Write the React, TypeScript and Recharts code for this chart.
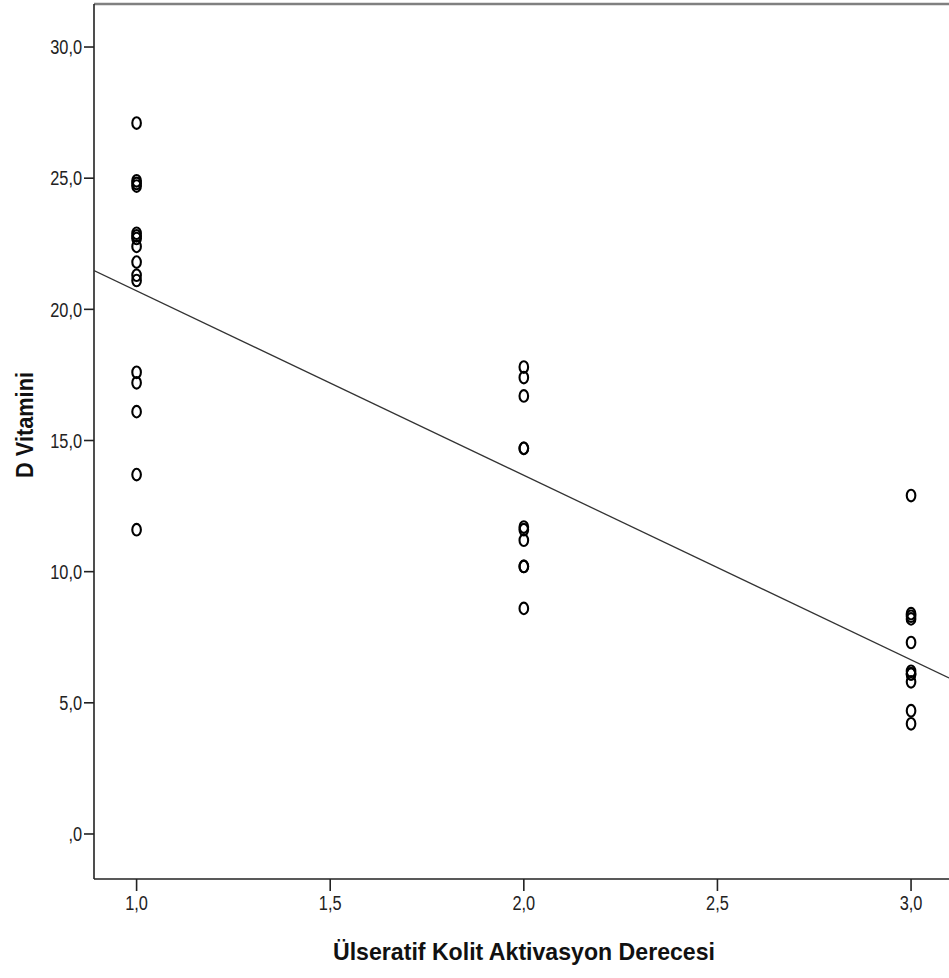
import { ScatterChart, Scatter, XAxis, YAxis, ReferenceLine } from "recharts";

// values, one list per activity grade
const grade1Values = [27.1, 24.9, 24.8, 24.7, 22.9, 22.8, 22.7, 22.4, 21.8, 21.3, 21.1, 17.6, 17.2, 16.1, 13.7, 11.6];
const grade2Values = [17.8, 17.4, 16.7, 14.7, 14.7, 11.7, 11.6, 11.2, 10.2, 10.2, 8.6];
const grade3Values = [12.9, 8.4, 8.3, 8.2, 7.3, 6.2, 6.1, 6.1, 5.8, 4.7, 4.2];

const grades = [1, 2, 3];
const xTicks = [1, 1.5, 2, 2.5, 3];
const yTicks = [0, 5, 10, 15, 20, 25, 30];

// fit line end points (at the plot edges)
const fitX = [0.89, 3.098];
const fitY = [21.48, 5.95];

const X_DOMAIN = [0.89, 3.098];
const Y_DOMAIN = [-1.716, 31.64];

const FONT = "'Liberation Sans', Arial, sans-serif";

const points = [grade1Values, grade2Values, grade3Values].flatMap((vals, i) =>
  vals.map((v) => ({ x: grades[i], y: v }))
);
const fitLine = fitX.map((x, i) => ({ x, y: fitY[i] }));

const fmt = (v: number) => (v === 0 ? ",0" : v.toFixed(1).replace(".", ","));

const Ring = (props: any) => (
  <ellipse cx={props.cx} cy={props.cy} rx={4.3} ry={5.8} fill="none" stroke="#000" strokeWidth={2.1} />
);

const NoDot = () => <g />;

// condensed tick text, like the narrow SPSS font
const CondensedTick = (props: any) => {
  const { x, y, payload, textAnchor, vertical } = props;
  const dy = vertical ? "0.36em" : "0.72em";
  return (
    <g transform={`translate(${x},${y}) scale(0.86,1.05)`}>
      <text x={0} y={0} dy={dy} textAnchor={textAnchor} fontFamily={FONT} fontSize={19} fill="#222">
        {fmt(payload.value)}
      </text>
    </g>
  );
};

export default function App() {
  return (
    <div style={{ width: 949, height: 978, background: "#fff" }}>
      <style>{`body{margin:0}`}</style>
      <ScatterChart width={949} height={978} margin={{ top: 4, right: 0, bottom: 0, left: 0 }}>
        <XAxis
          dataKey="x"
          type="number"
          domain={X_DOMAIN}
          ticks={xTicks}
          allowDataOverflow
          height={99}
          tickSize={12}
          tickMargin={5}
          axisLine={{ stroke: "#222", strokeWidth: 1.6 }}
          tickLine={{ stroke: "#222", strokeWidth: 1.6 }}
          tick={(p: any) => <CondensedTick {...p} vertical={false} />}
          label={{
            content: () => (
              <text
                x={524}
                y={960}
                textAnchor="middle"
                textLength={382}
                lengthAdjust="spacingAndGlyphs"
                fontFamily={FONT}
                fontSize={24}
                fontWeight="bold"
                fill="#111"
              >
                Ülseratif Kolit Aktivasyon Derecesi
              </text>
            ),
          }}
        />
        <YAxis
          dataKey="y"
          type="number"
          domain={Y_DOMAIN}
          ticks={yTicks}
          allowDataOverflow
          width={94}
          tickSize={10}
          tickMargin={2}
          axisLine={{ stroke: "#222", strokeWidth: 1.6 }}
          tickLine={{ stroke: "#222", strokeWidth: 1.6 }}
          tick={(p: any) => <CondensedTick {...p} vertical />}
          label={{
            content: () => (
              <text
                x={33}
                y={425}
                transform="rotate(-90 33 425)"
                textAnchor="middle"
                textLength={106}
                lengthAdjust="spacingAndGlyphs"
                fontFamily={FONT}
                fontSize={24}
                fontWeight="bold"
                fill="#111"
              >
                D Vitamini
              </text>
            ),
          }}
        />
        <ReferenceLine y={Y_DOMAIN[1]} stroke="#808080" strokeWidth={2.5} />
        <Scatter data={fitLine} line={{ stroke: "#333", strokeWidth: 1.3 }} shape={NoDot} isAnimationActive={false} />
        <Scatter data={points} shape={Ring} isAnimationActive={false} />
      </ScatterChart>
    </div>
  );
}
